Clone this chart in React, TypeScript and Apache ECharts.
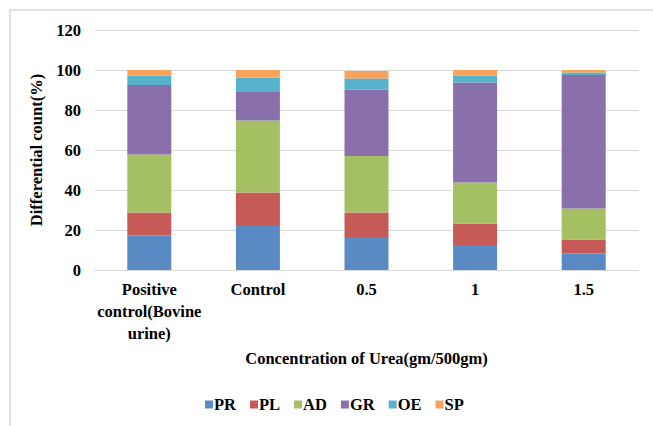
import React, { useEffect, useRef } from "react";
import * as echarts from "echarts";

const categories = ["Positive\ncontrol(Bovine\nurine)", "Control", "0.5", "1", "1.5"];
const seriesNames = ["PR", "PL", "AD", "GR", "OE", "SP"];
const PR = [17.2, 22.0, 16.5, 12.5, 8.3];
const PL = [11.5, 16.7, 12.2, 10.7, 6.9];
const AD = [29.0, 36.0, 28.3, 20.6, 15.5];
const GR = [34.8, 14.3, 33.3, 49.9, 66.8];
const OE = [4.7, 7.3, 5.4, 3.5, 1.2];
const SP = [2.8, 3.7, 3.8, 2.8, 1.3];
const seriesData = [PR, PL, AD, GR, OE, SP];
const colors = ["#5a8ac3", "#c55a56", "#a5bf63", "#8a70aa", "#57b3cc", "#f9a25c"];
const yTicks = { min: 0, max: 120, interval: 20 };

const FONT = "Liberation Serif";
const FS = 16.5;

export default function App() {
  const ref = useRef<HTMLDivElement>(null);
  useEffect(() => {
    if (!ref.current) return;
    const chart = echarts.init(ref.current, undefined, { renderer: "svg" });
    chart.setOption({
      animation: false,
      color: colors,
      textStyle: { fontFamily: FONT },
      graphic: [
        {
          type: "rect",
          shape: { x: 10, y: 10, width: 700, height: 500 },
          style: { fill: "none", stroke: "#d9d9d9", lineWidth: 1.5 },
          silent: true,
        },
      ],
      grid: { left: 95, right: 15, top: 30, bottom: 156 },
      legend: {
        data: seriesNames,
        top: 391,
        left: 200,
        itemWidth: 8,
        itemHeight: 8,
        itemGap: 14,
        icon: "rect",
        textStyle: { fontFamily: FONT, fontWeight: "bold", fontSize: FS, color: "#000", padding: [0, 0, 0, -4] },
      },
      xAxis: {
        type: "category",
        data: categories,
        axisTick: { show: false },
        axisLine: { lineStyle: { color: "#d9d9d9", width: 1 } },
        axisLabel: {
          interval: 0,
          margin: 8,
          fontFamily: FONT,
          fontWeight: "bold",
          fontSize: FS,
          lineHeight: 22,
          color: "#000",
        },
        name: "Concentration of Urea(gm/500gm)",
        nameLocation: "middle",
        nameGap: 80,
        nameTextStyle: { fontFamily: FONT, fontWeight: "bold", fontSize: FS, color: "#000" },
      },
      yAxis: {
        type: "value",
        min: yTicks.min,
        max: yTicks.max,
        interval: yTicks.interval,
        axisLine: { show: false },
        axisTick: { show: false },
        splitLine: { lineStyle: { color: "#d9d9d9", width: 1 } },
        axisLabel: {
          margin: 14,
          fontFamily: FONT,
          fontWeight: "bold",
          fontSize: FS,
          color: "#000",
        },
        name: "Differential count(%)",
        nameLocation: "middle",
        nameGap: 32,
        nameTextStyle: { fontFamily: FONT, fontWeight: "bold", fontSize: FS, color: "#000" },
      },
      series: seriesNames.map((n, i) => ({
        name: n,
        type: "bar",
        stack: "total",
        barWidth: 44,
        data: seriesData[i],
      })),
    });
    return () => chart.dispose();
  }, []);
  return (
    <div
      ref={ref}
      style={{ position: "fixed", left: 0, top: 0, width: 653, height: 426, background: "#fff" }}
    />
  );
}
